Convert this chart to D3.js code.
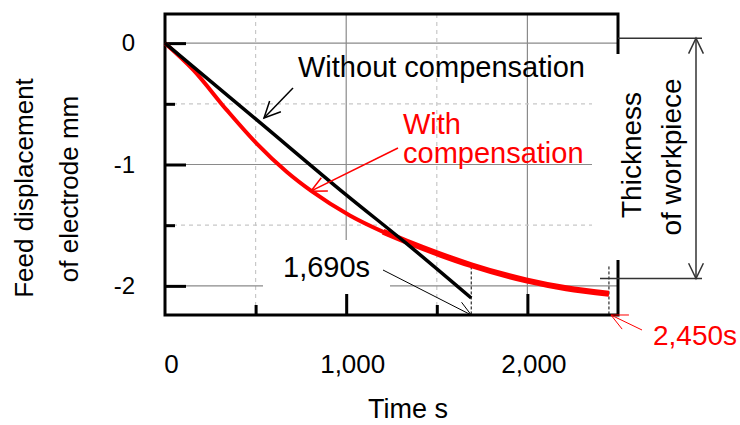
<!DOCTYPE html>
<html>
<head>
<meta charset="utf-8">
<script src="https://cdn.jsdelivr.net/npm/d3@7"></script>
<style>
  body { margin: 0; background: #fff; }
  text { font-family: "Liberation Sans", Arial, sans-serif; }
</style>
</head>
<body>
<svg id="chart" width="740" height="425"></svg>
<script>
// data
const timeRed = [0, 156, 340, 505, 671, 809, 1020, 1204, 1332, 1516, 1691, 1993, 2214, 2450];
const dispRed = [0, -0.22, -0.55, -0.826, -1.06, -1.22, -1.42, -1.555, -1.635, -1.74, -1.83, -1.955, -2.02, -2.065];
const timeBlack = [0, 505, 1000, 1332, 1690];
const dispBlack = [0, -0.63, -1.25, -1.65, -2.10];
const xMajor = [1000, 2000];
const xMinor = [500, 1500];
const xLabels = [0, 1000, 2000];
const yMajor = [0, -1, -2];
const yMinor = [-0.5, -1.5];
const endTimes = [1690, 2450];
const thickness = [0.04, -1.94];

const svg = d3.select("#chart");
const x = d3.scaleLinear().domain([0, 2500]).range([165, 618]);
const y = d3.scaleLinear().domain([0.24, -2.24]).range([14, 315]);

// grid
const grid = svg.append("g");
grid.selectAll(".vmaj").data(xMajor).join("line")
    .attr("x1", d => x(d)).attr("x2", d => x(d)).attr("y1", y.range()[0]).attr("y2", y.range()[1])
    .attr("stroke", "#8a8a8a").attr("stroke-width", 1.2);
grid.selectAll(".vmin").data(xMinor).join("line")
    .attr("x1", d => x(d)).attr("x2", d => x(d)).attr("y1", y.range()[0]).attr("y2", y.range()[1])
    .attr("stroke", "#c8c8c8").attr("stroke-width", 1.2).attr("stroke-dasharray", "4,4");
grid.selectAll(".hmaj").data(yMajor).join("line")
    .attr("x1", x.range()[0]).attr("x2", x.range()[1]).attr("y1", d => y(d)).attr("y2", d => y(d))
    .attr("stroke", "#8a8a8a").attr("stroke-width", 1.2);
grid.selectAll(".hmin").data(yMinor).join("line")
    .attr("x1", x.range()[0]).attr("x2", x.range()[1]).attr("y1", d => y(d)).attr("y2", d => y(d))
    .attr("stroke", "#c8c8c8").attr("stroke-width", 1.2).attr("stroke-dasharray", "4,4");

// white box behind the 1,690s label
svg.append("rect").attr("x", 263).attr("y", 240).attr("width", 127).attr("height", 54).attr("fill", "#fff");

// frame
svg.append("rect")
    .attr("x", x.range()[0]).attr("y", y.range()[0])
    .attr("width", x.range()[1] - x.range()[0]).attr("height", y.range()[1] - y.range()[0])
    .attr("fill", "none").attr("stroke", "#000").attr("stroke-width", 3);

// axes with inward ticks
const axX = svg.append("g").attr("transform", `translate(0,${y.range()[1]})`)
    .call(d3.axisBottom(x).tickValues(xMajor).tickSize(-21).tickFormat(""));
const axXm = svg.append("g").attr("transform", `translate(0,${y.range()[1]})`)
    .call(d3.axisBottom(x).tickValues(xMinor).tickSize(-10).tickFormat(""));
const axY = svg.append("g").attr("transform", `translate(${x.range()[0]},0)`)
    .call(d3.axisLeft(y).tickValues(yMajor).tickSize(-21).tickPadding(30).tickFormat(d => String(d)));
const axYm = svg.append("g").attr("transform", `translate(${x.range()[0]},0)`)
    .call(d3.axisLeft(y).tickValues(yMinor).tickSize(-10).tickFormat(""));
[axX, axXm, axY, axYm].forEach(g => {
    g.select(".domain").remove();
    g.selectAll(".tick line").attr("stroke", "#000").attr("stroke-width", 3);
});
axY.selectAll("text").attr("font-size", 24).attr("fill", "#000")
    .attr("font-family", "Liberation Sans, Arial, sans-serif");

const xLab = svg.append("g").attr("transform", `translate(0,${y.range()[1]})`)
    .call(d3.axisBottom(x).tickValues(xLabels).tickSize(0).tickPadding(40).tickFormat(d3.format(",")));
xLab.select(".domain").remove();
xLab.selectAll("text").attr("font-size", 26).attr("fill", "#000").attr("dx", 6)
    .attr("font-family", "Liberation Sans, Arial, sans-serif");

// white box over right side of frame behind the thickness label
svg.append("rect").attr("x", 592).attr("y", 54).attr("width", 30).attr("height", 206).attr("fill", "#fff");

// dashed markers at end times
svg.selectAll(".endline").data(endTimes).join("line")
    .attr("x1", d => x(d)).attr("x2", d => x(d)).attr("y1", y(-1.84)).attr("y2", y.range()[1])
    .attr("stroke", "#000").attr("stroke-width", 1).attr("stroke-dasharray", "3,2");

// curves
const line = d3.line().x(d => x(d[0])).y(d => y(d[1])).curve(d3.curveMonotoneX);
const red = d3.zip(timeRed, dispRed);
svg.append("path").datum(red).attr("d", line)
    .attr("fill", "none").attr("stroke", "#ff0000").attr("stroke-width", 4).attr("stroke-linejoin", "round");
// the measured signal gets noisier (thicker) later on
svg.append("path").datum(red.filter(d => d[0] >= 1204)).attr("d", line)
    .attr("fill", "none").attr("stroke", "#ff0000").attr("stroke-width", 6);
svg.append("path").datum(d3.zip(timeBlack, dispBlack)).attr("d", line)
    .attr("fill", "none").attr("stroke", "#000").attr("stroke-width", 3.5);

// arrows
function arrow(x1, y1, x2, y2, color, len, width) {
    const a = Math.atan2(y2 - y1, x2 - x1);
    const g = svg.append("g").attr("stroke", color).attr("stroke-width", width).attr("fill", "none");
    g.append("line").attr("x1", x1).attr("y1", y1).attr("x2", x2).attr("y2", y2);
    const s = 0.45;
    g.append("polyline").attr("points", [
        [x2 - len * Math.cos(a - s), y2 - len * Math.sin(a - s)],
        [x2, y2],
        [x2 - len * Math.cos(a + s), y2 - len * Math.sin(a + s)]
    ].map(p => p.join(",")).join(" "));
}
arrow(293, 88, 264, 118, "#000", 18, 1.5);
arrow(398, 148, x(805), y(-1.22), "#ff0000", 17, 1.5);
arrow(383, 270, x(1690), y.range()[1], "#000", 16, 1);
arrow(642, 330, x(2450) + 2, y.range()[1], "#ff0000", 18, 1);

// thickness annotation
svg.append("line").attr("x1", 618).attr("x2", 702).attr("y1", y(thickness[0])).attr("y2", y(thickness[0]))
    .attr("stroke", "#333").attr("stroke-width", 1.5);
svg.append("line").attr("x1", 600).attr("x2", 702).attr("y1", y(thickness[1])).attr("y2", y(thickness[1]))
    .attr("stroke", "#333").attr("stroke-width", 1.5);
arrow(696, 160, 696, y(thickness[0]), "#333", 17, 1.5);
arrow(696, 160, 696, y(thickness[1]), "#333", 17, 1.5);

// texts
function txt(s, px, py, size, color, anchor, rot) {
    const t = svg.append("text").text(s).attr("font-size", size).attr("fill", color)
        .attr("text-anchor", anchor || "start");
    if (rot) t.attr("transform", `translate(${px},${py}) rotate(${rot})`);
    else t.attr("x", px).attr("y", py);
    return t;
}
txt("Without compensation", 298, 77, 29, "#000");
txt("With", 403, 134, 29, "#ff0000");
txt("compensation", 403, 163, 29, "#ff0000");
txt("1,690s", 283, 277, 29, "#000");
txt("2,450s", 653, 345, 28, "#ff0000");
txt("Thickness", 641, 155, 28, "#000", "middle", -90);
txt("of workpiece", 681, 157, 28, "#000", "middle", -90);
txt("Feed displacement", 33, 188, 26, "#000", "middle", -90);
txt("of electrode mm", 78, 189, 26, "#000", "middle", -90);
txt("Time s", 408, 418, 27, "#000", "middle");
</script>
</body>
</html>
